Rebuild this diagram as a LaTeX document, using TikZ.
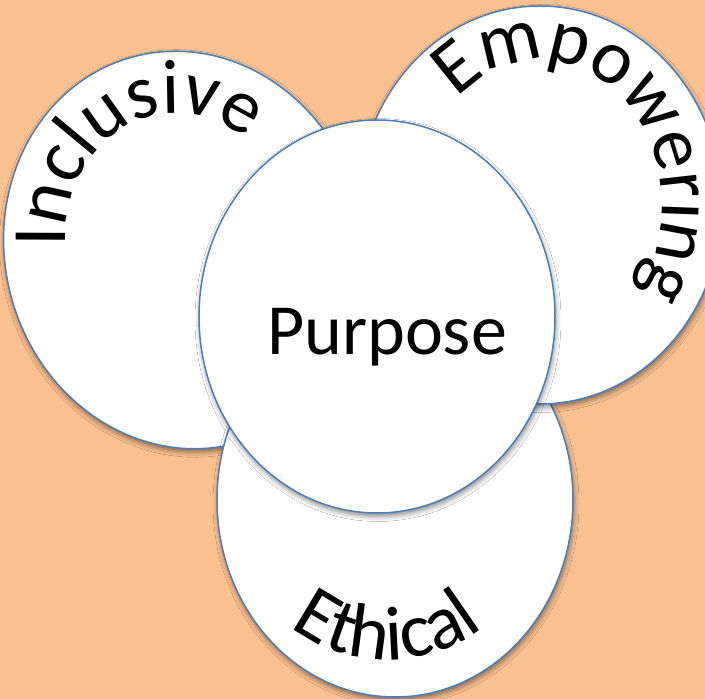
\documentclass[tikz,border=0pt]{standalone}
\usepackage{fontspec}
\newfontfamily\calib{Carlito}
\usetikzlibrary{shapes.geometric,decorations.text,shadows.blur}
\definecolor{bgorange}{RGB}{250,192,144}
\definecolor{rimblue}{RGB}{74,126,187}
\newcommand\lblfont{\calib\fontsize{72}{86}\selectfont}
\newcommand\arcfont{\calib\fontsize{77}{90}\selectfont}
\tikzset{
  bubble/.style={ellipse, draw=rimblue, line width=1.5pt, fill=white, inner sep=0pt,
    blur shadow={shadow xshift=1pt, shadow yshift=-3.5pt, shadow blur radius=5pt, shadow opacity=45}},
  arclabel/.style={decorate, decoration={text along path, text align=center, text={|\arcfont|#1}}}
}
\begin{document}
\begin{tikzpicture}[x=1pt,y=1pt]
\useasboundingbox (0,0) rectangle (705,699);
\clip (0,0) rectangle (705,699);
\fill[bgorange] (0,0) rectangle (705,699);
% the three outer ovals, then the centre one on top
\node[bubble, minimum width=360pt, minimum height=400pt, rotate=15] (incl) at (185,449) {};
\node[bubble, minimum width=356pt, minimum height=394pt] (eth) at (395,199) {};
\node[bubble, minimum width=364pt, minimum height=398pt] (emp) at (540,494) {};
\node[bubble, minimum width=356pt, minimum height=393pt] (purp) at (377,382.5) {};
\node[anchor=base, font=\lblfont] (purptxt) at (387,344) {Purpose};
% words set along arcs inside the outer ovals
\path[arclabel=Inclusive]
  plot[domain=0:1, samples=80, variable=\s]
  ({185 + 118*cos(193-180*\s)*cos(15) - 138*sin(193-180*\s)*sin(15)},
   {449 + 118*cos(193-180*\s)*sin(15) + 138*sin(193-180*\s)*cos(15)});
\path[arclabel=Empowering]
  plot[domain=0:1, samples=80, variable=\s]
  ({540 + 122*cos(148-200*\s)}, {494 + 145*sin(148-200*\s)});
\path[arclabel=Ethical]
  (387,197) ++(210:158) arc[start angle=210, end angle=330, radius=158];
\end{tikzpicture}
\end{document}
